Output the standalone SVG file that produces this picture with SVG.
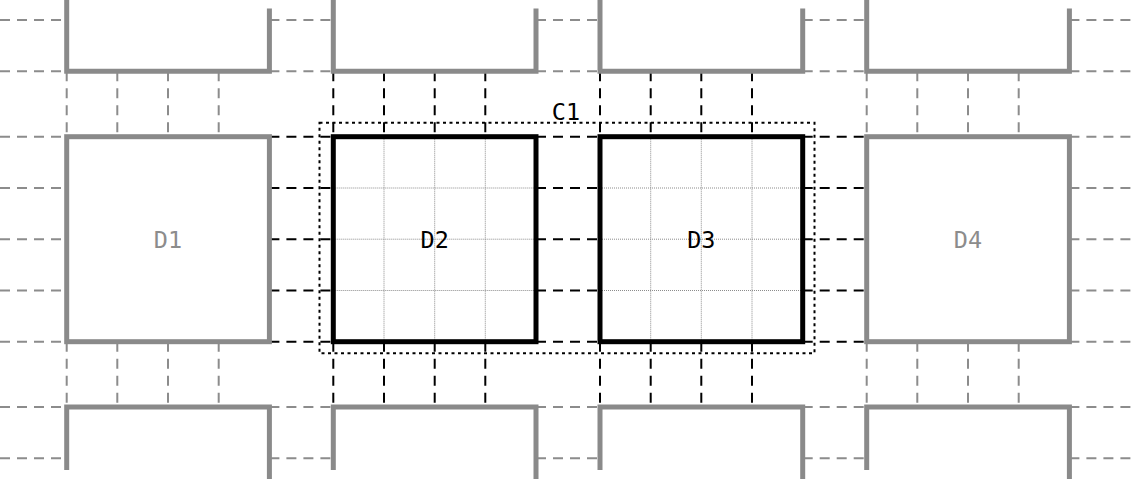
<svg xmlns="http://www.w3.org/2000/svg" width="1136" height="479" viewBox="0 0 1136 479">
<style>
.bg{fill:#ffffff}
.dg{fill:none;stroke:#8c8c8c;stroke-width:2;stroke-dasharray:10,7}
.dk{fill:none;stroke:#000;stroke-width:2;stroke-dasharray:10,7}
.fg{fill:none;stroke:#8a8a8a;stroke-width:5}
.fk{fill:none;stroke:#000;stroke-width:5}
.grid{fill:none;stroke:#8c8c8c;stroke-width:1;stroke-dasharray:1,1}
.clu{fill:none;stroke:#000;stroke-width:2;stroke-dasharray:3,3.5}
.lbl{font-family:"DejaVu Sans Mono","Liberation Mono",monospace;font-size:23.5px;text-anchor:middle}
.lg{fill:#8c8c8c}
.lk{fill:#000}
</style>
<rect class="bg" x="0" y="0" width="1136" height="479"/>
<g id="connectors">
  <path class="dg" d="M0,20H66.7 M269.4,20H333.3 M536,20H600 M802.7,20H866.7 M1069.4,20H1136
                      M0,71.3H66.7 M269.4,71.3H333.3 M536,71.3H600 M802.7,71.3H866.7 M1069.4,71.3H1136"/>
  <path class="dg" d="M0,407H66.7 M269.4,407H333.3 M536,407H600 M802.7,407H866.7 M1069.4,407H1136
                      M0,458.3H66.7 M269.4,458.3H333.3 M536,458.3H600 M802.7,458.3H866.7 M1069.4,458.3H1136"/>
  <path class="dg" d="M0,136.7H66.7 M0,188H66.7 M0,239.2H66.7 M0,290.5H66.7 M0,341.7H66.7
                      M1069.4,136.7H1136 M1069.4,188H1136 M1069.4,239.2H1136 M1069.4,290.5H1136 M1069.4,341.7H1136"/>
  <path class="dk" d="M269.4,136.7H333.3 M269.4,188H333.3 M269.4,239.2H333.3 M269.4,290.5H333.3 M269.4,341.7H333.3
                      M536,136.7H600 M536,188H600 M536,239.2H600 M536,290.5H600 M536,341.7H600
                      M802.7,136.7H866.7 M802.7,188H866.7 M802.7,239.2H866.7 M802.7,290.5H866.7 M802.7,341.7H866.7"/>
  <path class="dg" d="M66.7,71.3V136.7 M117.3,71.3V136.7 M168,71.3V136.7 M218.7,71.3V136.7
                      M866.7,71.3V136.7 M917.3,71.3V136.7 M968,71.3V136.7 M1018.7,71.3V136.7
                      M66.7,341.7V407 M117.3,341.7V407 M168,341.7V407 M218.7,341.7V407
                      M866.7,341.7V407 M917.3,341.7V407 M968,341.7V407 M1018.7,341.7V407"/>
  <path class="dk" d="M333.3,71.3V136.7 M384,71.3V136.7 M434.7,71.3V136.7 M485.3,71.3V136.7
                      M600,71.3V136.7 M650.7,71.3V136.7 M701.3,71.3V136.7 M752,71.3V136.7
                      M333.3,341.7V407 M384,341.7V407 M434.7,341.7V407 M485.3,341.7V407
                      M600,341.7V407 M650.7,341.7V407 M701.3,341.7V407 M752,341.7V407"/>
</g>
<g id="top-row">
  <path class="fg" d="M66.7,0V71.3H269.4V8.5"/>
  <path class="fg" d="M333.3,0V71.3H536V8.5"/>
  <path class="fg" d="M600,0V71.3H802.7V8.5"/>
  <path class="fg" d="M866.7,0V71.3H1069.4V8.5"/>
</g>
<g id="bottom-row">
  <path class="fg" d="M66.7,470V407H269.4V479"/>
  <path class="fg" d="M333.3,470V407H536V479"/>
  <path class="fg" d="M600,470V407H802.7V479"/>
  <path class="fg" d="M866.7,470V407H1069.4V479"/>
</g>
<g id="D1">
  <rect class="fg" x="66.7" y="136.7" width="202.7" height="205"/>
  <text class="lbl lg" x="168" y="248">D1</text>
</g>
<g id="D2">
  <path class="grid" d="M384,136.7V341.7 M434.7,136.7V341.7 M485.3,136.7V341.7 M333.3,188H536 M333.3,239.2H536 M333.3,290.5H536"/>
  <rect class="fk" x="333.3" y="136.7" width="202.7" height="205"/>
  <text class="lbl lk" x="434.7" y="248">D2</text>
</g>
<g id="D3">
  <path class="grid" d="M650.7,136.7V341.7 M701.3,136.7V341.7 M752,136.7V341.7 M600,188H802.7 M600,239.2H802.7 M600,290.5H802.7"/>
  <rect class="fk" x="600" y="136.7" width="202.7" height="205"/>
  <text class="lbl lk" x="701.3" y="248">D3</text>
</g>
<g id="D4">
  <rect class="fg" x="866.7" y="136.7" width="202.7" height="205"/>
  <text class="lbl lg" x="968" y="248">D4</text>
</g>
<g id="C1">
  <rect class="clu" x="319.5" y="122.8" width="495" height="230.5"/>
  <text class="lbl lk" x="566" y="120">C1</text>
</g>
</svg>
